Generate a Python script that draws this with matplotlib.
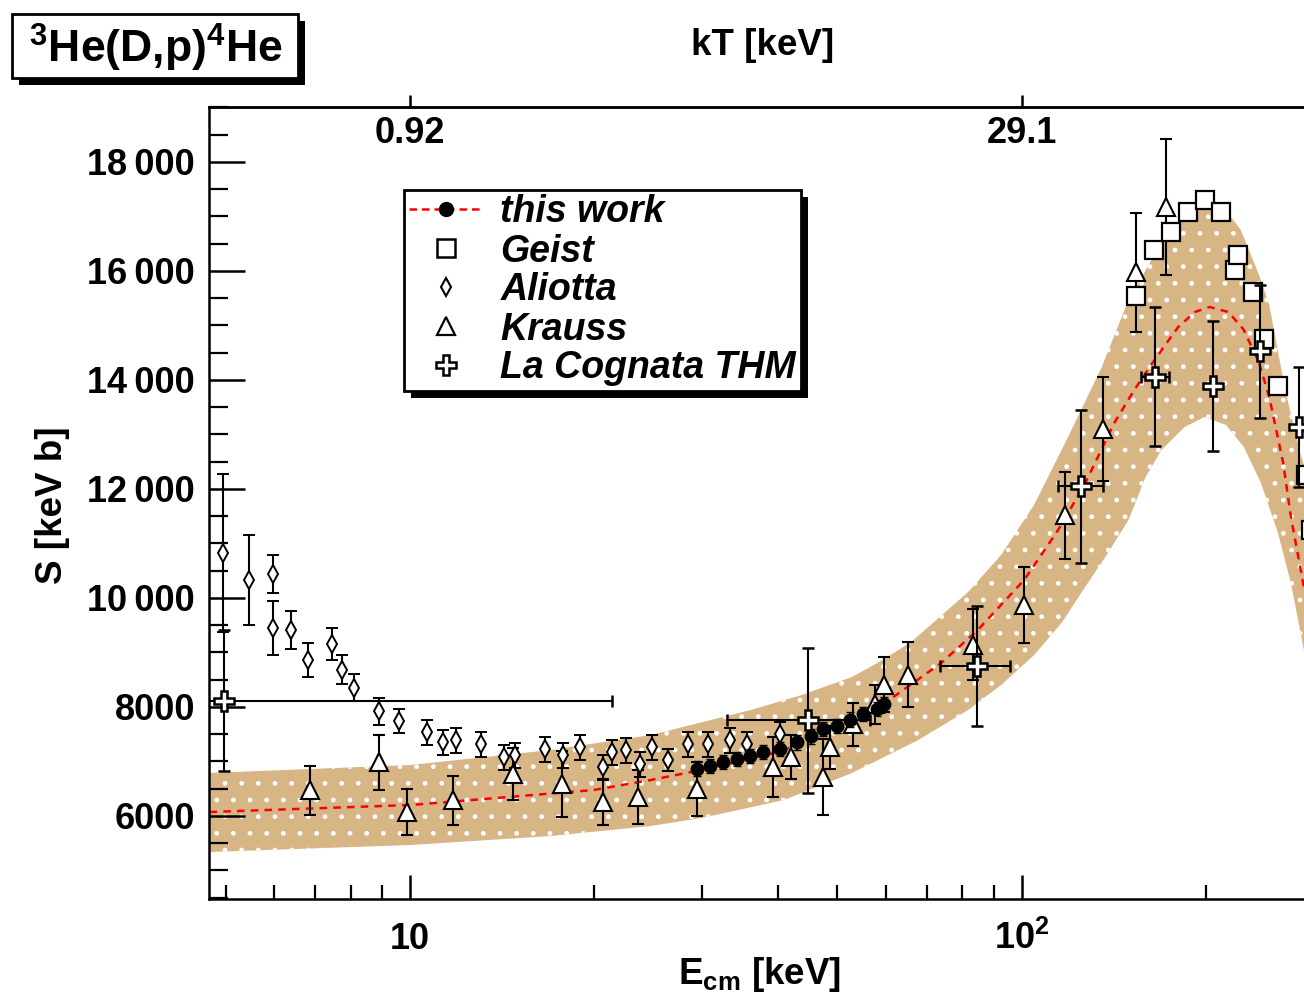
import numpy as np
import matplotlib
matplotlib.use("Agg")
import matplotlib.pyplot as plt
from matplotlib import patheffects
from matplotlib.lines import Line2D
from matplotlib.patches import Rectangle
from matplotlib.ticker import FixedLocator, NullFormatter, NullLocator, LogLocator

plt.rcParams['font.family'] = ['Liberation Sans', 'DejaVu Sans']
plt.rcParams['font.weight'] = 'bold'
plt.rcParams['mathtext.fontset'] = 'custom'
plt.rcParams['mathtext.rm'] = 'Liberation Sans:bold'
plt.rcParams['mathtext.bf'] = 'Liberation Sans:bold'
plt.rcParams['mathtext.it'] = 'Liberation Sans:bold:italic'
plt.rcParams['hatch.linewidth'] = 1.0

# ---- data (E in keV, S in keV b) ----
band_up_E = [4.70, 10.04, 16.99, 24.77, 36.1, 43.7, 52.8, 58.9, 66.0, 81.8, 92.6, 104.8, 118.5,
             135.3, 149.6, 163.1, 182.3, 203.0, 213.8, 228.4, 244.6, 254.2, 269.9, 286.2, 302.5]
band_up_S = [6789, 6936, 7211, 7486, 7945, 8220, 8550, 8844, 9193, 10110, 10789, 11706, 12899,
             14239, 15468, 16202, 16899, 17358, 17175, 16752, 15927, 15376, 13817, 12624, 11798]

band_lo_E = [4.70, 10.04, 16.99, 24.77, 29.97, 40.9, 52.8, 67.8, 81.8, 92.6, 104.8, 116.6, 126.7,
             137.8, 149.6, 159.6, 169.4, 184.9, 199.2, 216.1, 231.0, 246.4, 262.7, 275.8, 290.7,
             302.5]
band_lo_S = [5339, 5468, 5633, 5817, 5963, 6294, 6789, 7394, 7945, 8404, 8950, 9560, 10180,
             10789, 11431, 12220, 12716, 13138, 13321, 13174, 12771, 12110, 11193, 10275, 8954,
             7945]

fit_E = [4.70, 10.04, 19.98, 24.77, 29.97, 40.0, 49.9, 59.8, 73.9, 84.8, 101.0, 114.8, 126.7,
         141.8, 152.9, 165.0, 180.4, 192.2, 203.0, 218.0, 231.0, 244.6, 254.2, 267.9, 275.8,
         286.2, 302.5]
fit_S = [6073, 6202, 6477, 6661, 6844, 7174, 7578, 8073, 8807, 9413, 10330, 11248, 12073,
         13211, 13817, 14367, 14972, 15248, 15340, 15248, 14918, 14312, 13688, 12477, 11486,
         10514, 9046]

work_E = [29.5, 31.0, 32.5, 34.3, 36.0, 37.8, 40.3, 43.0, 45.2, 47.4, 50.0, 52.5, 55.1, 58.1, 59.5]
work_S = [6870, 6920, 6990, 7040, 7100, 7170, 7230, 7350, 7460, 7590, 7650, 7770, 7870, 7960, 8050]
work_err = [130] * len(work_E)

geist_E = [153.7, 164.4, 175.4, 187.0, 199.3, 211.7, 223.2, 225.7, 238.8, 248.9, 262.4, 292, 297]
geist_S = [15534, 16393, 16721, 17087, 17306, 17087, 16027, 16301, 15607, 14749, 13891, 12250, 11250]

aliotta_E = [4.94, 5.45, 5.97, 5.97, 6.39, 6.81, 7.45, 7.74, 8.10, 8.90, 9.59, 10.66, 11.32,
             11.89, 13.07, 14.25, 14.85, 16.63, 17.80, 18.97, 20.70, 21.41, 22.57, 23.79,
             24.89, 26.44, 28.51, 30.74, 33.40, 35.6, 40.3]
aliotta_S = [10822, 10329, 10438, 9452, 9415, 8868, 9160, 8685, 8356, 7918, 7735, 7534, 7352,
             7388, 7315, 7078, 7114, 7224, 7114, 7260, 6895, 7169, 7205, 6950,
             7260, 7023, 7315, 7315, 7388, 7315, 7498]
aliotta_err = [1450, 820, 350, 490, 350, 310, 290, 270, 250, 250, 220, 230, 230,
               230, 230, 230, 230, 230, 230, 230, 230, 230, 230, 230,
               230, 200, 230, 230, 230, 230, 230]

krauss_E = [6.86, 8.90, 9.89, 11.76, 14.74, 17.74, 20.70, 23.61, 29.5, 39.3, 41.9, 47.4, 48.7,
            53.1, 57.5, 59.5, 65.1, 83.2, 100.8, 118.0, 135.7, 153.7, 172.1]
krauss_S = [6475, 6986, 6073, 6292, 6767, 6584, 6256, 6347, 6493, 6895, 7078, 6712, 7260,
            7680, 8046, 8411, 8594, 9142, 9872, 11516, 13105, 15973, 17178]
krauss_err = [450, 500, 430, 450, 480, 600, 420, 500, 500, 550, 400, 700, 400,
              400, 350, 500, 600, 650, 700, 800, 950, 1100, 1250]

thm_E = [4.96, 44.8, 84.7, 124.9, 165.1, 205.4, 245.2, 284]
thm_S = [8119, 7753, 8758, 12046, 14064, 13891, 14530, 13141]
thm_err = [1300, 1330, 1100, 1400, 1280, 1190, 1220, 1100]
thm_xlo = [4.0, 11.8, 11.0, 10.0, 8.0, 0, 0, 0]
thm_xhi = [16.4, 11.8, 11.0, 11.0, 9.0, 0, 0, 0]

y_ticks = [6000, 8000, 10000, 12000, 14000, 16000, 18000]
y_labels = ['6000', '8000', '10\u2009000', '12\u2009000', '14\u2009000', '16\u2009000', '18\u2009000']

legend_labels = ['this work', 'Geist', 'Aliotta', 'Krauss', 'La Cognata THM']

# ---- figure ----
fig = plt.figure(figsize=(13.04, 9.96), dpi=100)
ax = fig.add_axes([209 / 1304, 1 - 899 / 996, (1315 - 209) / 1304, (899 - 107) / 996])
ax.set_xscale('log')
ax.set_xlim(4.69, 302)
ax.set_ylim(4477, 19009)

ax.fill(np.r_[band_up_E, band_lo_E[::-1]], np.r_[band_up_S, band_lo_S[::-1]],
        facecolor='#d8b585', edgecolor='white', hatch='.', lw=0, zorder=1)
ax.plot(fit_E, fit_S, color='red', ls=(0, (3, 2.5)), lw=1.8, zorder=2)

eb = dict(ecolor='black', elinewidth=1.5, capsize=4, capthick=1.5, mec='black', mfc='white', ls='none')
ax.errorbar(aliotta_E, aliotta_S, yerr=aliotta_err, fmt='d', ms=9, mew=1.4, zorder=4, **eb)
ax.errorbar(krauss_E, krauss_S, yerr=krauss_err, fmt='^', ms=12.5, mew=1.5, zorder=4, **eb)
ax.errorbar(geist_E, geist_S, fmt='s', ms=13, mew=1.6, zorder=5, **eb)
ax.errorbar(work_E, work_S, yerr=work_err, fmt='o', ms=9, mew=1, zorder=6,
            ecolor='black', elinewidth=1.5, capsize=3, mec='black', mfc='black', ls='none')
ax.errorbar(thm_E, thm_S, yerr=thm_err, xerr=[thm_xlo, thm_xhi], fmt='P', ms=15, mew=1.8,
            zorder=7, **eb)

# axes styling
for s in ['left', 'bottom', 'top']:
    ax.spines[s].set_linewidth(1.8)
ax.spines['right'].set_visible(False)

ax.xaxis.set_major_locator(FixedLocator([10, 100]))
ax.xaxis.set_minor_locator(LogLocator(base=10, subs=np.arange(2, 10)))
ax.xaxis.set_major_formatter(NullFormatter())
ax.xaxis.set_minor_formatter(NullFormatter())
ax.set_yticks(y_ticks)
ax.set_yticklabels(y_labels, fontsize=26)
ax.yaxis.set_minor_locator(FixedLocator(np.arange(4500, 19001, 500)))
ax.tick_params(axis='x', which='major', direction='in', length=17, width=1.8, top=False)
ax.tick_params(axis='x', which='minor', direction='in', length=10, width=1.6, top=False)
ax.tick_params(axis='y', which='major', direction='in', length=26, width=1.8, pad=10, right=False)
ax.tick_params(axis='y', which='minor', direction='in', length=14, width=1.6, right=False)

for xv, lab in [(10, '10'), (100, r'$\mathbf{10^{2}}$')]:
    ax.text(xv, (899 - 949) / 792, lab, transform=ax.get_xaxis_transform(),
            ha='center', va='baseline', fontsize=26)

secax = ax.secondary_xaxis('top')
secax.set_xticks([10, 100])
secax.set_xticklabels([])
secax.xaxis.set_minor_locator(NullLocator())
secax.tick_params(direction='out', length=9, width=1.8)
secax.spines['top'].set_linewidth(1.8)
for xv, lab in [(10, '0.92'), (100, '29.1')]:
    ax.text(xv, (899 - 143) / 792, lab, transform=ax.get_xaxis_transform(),
            ha='center', va='baseline', fontsize=26)

fig.text(763 / 1304, 1 - 55 / 996, 'kT [keV]', ha='center', va='baseline', fontsize=26.5)
fig.text(52 / 1304, 1 - 505 / 996, 'S [keV b]', rotation=90, ha='center', va='center', fontsize=26.5)
fig.text(760 / 1304, 1 - 984 / 996, r'$\mathbf{E_{cm}}$ [keV]', ha='center', va='baseline', fontsize=26.5)

shadow = [patheffects.withSimplePatchShadow(offset=(5, -5), shadow_rgbFace='black', alpha=1.0)]

# title box
fig.add_artist(Rectangle((12 / 1304, 1 - 78 / 996), 286 / 1304, 64 / 996, transform=fig.transFigure,
                         fc='white', ec='black', lw=2, path_effects=shadow))
fig.text(156 / 1304, 1 - 63 / 996, r'$^{3}$He(D,p)$^{4}$He', ha='center', va='baseline', fontsize=32)

handles = [
    Line2D([], [], color='red', ls=(0, (3, 2)), lw=1.8, marker='o', ms=10, mfc='black', mec='black'),
    Line2D([], [], ls='none', marker='s', ms=13, mfc='white', mec='black', mew=1.8),
    Line2D([], [], ls='none', marker='d', ms=9, mfc='white', mec='black', mew=1.5),
    Line2D([], [], ls='none', marker='^', ms=12.5, mfc='white', mec='black', mew=1.6),
    Line2D([], [], ls='none', marker='P', ms=15, mfc='white', mec='black', mew=1.8),
]
leg = ax.legend(handles, legend_labels, loc='upper left',
                bbox_to_anchor=((404 - 209) / 1106, (899 - 190) / 792), borderaxespad=0,
                prop={'style': 'italic', 'weight': 'bold', 'size': 27},
                frameon=True, fancybox=False, edgecolor='black', framealpha=1,
                borderpad=0.12, labelspacing=0.08, handlelength=2.0, handletextpad=0.45,
                numpoints=1)
leg.get_frame().set_linewidth(2)
leg.get_frame().set_path_effects(shadow)
leg.set_zorder(10)

fig.savefig('out.png', dpi=100)
